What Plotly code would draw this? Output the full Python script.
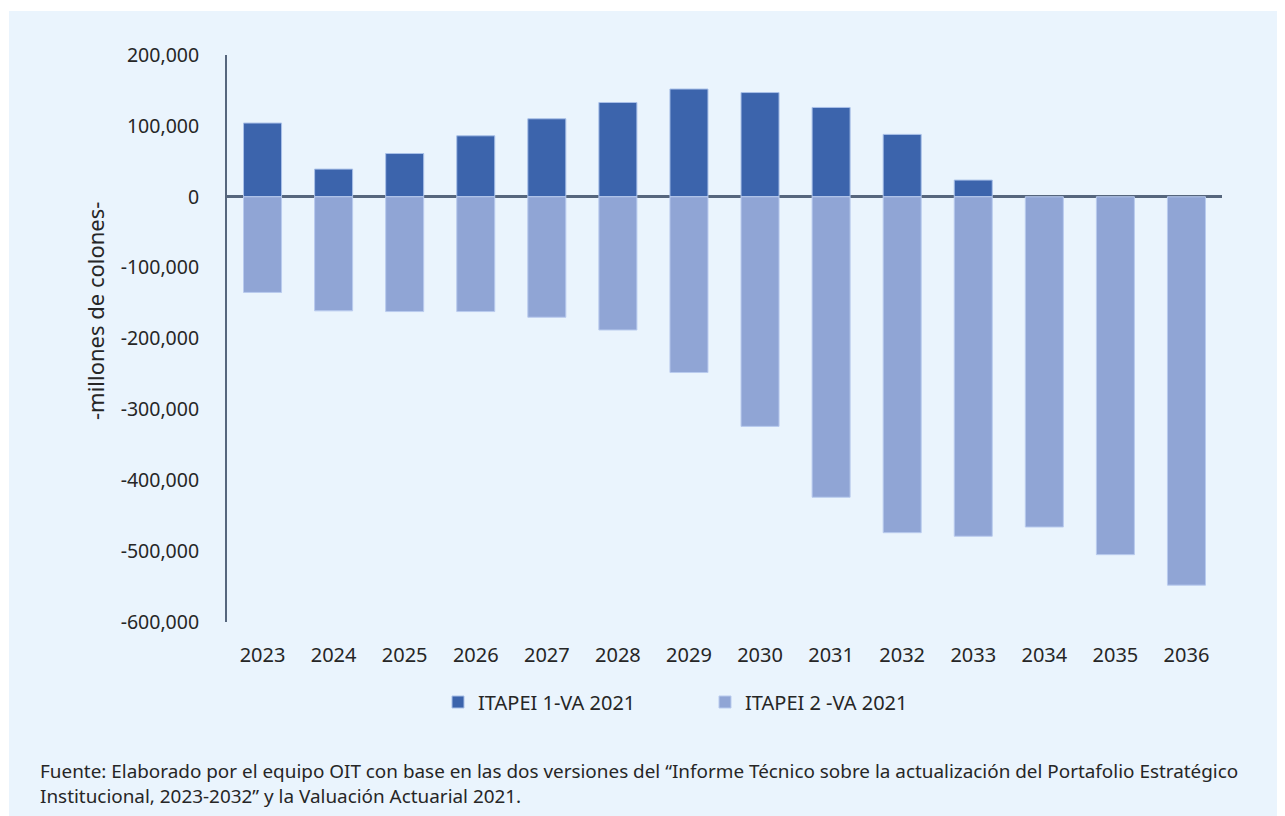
import plotly.graph_objects as go

years = ["2023", "2024", "2025", "2026", "2027", "2028", "2029",
         "2030", "2031", "2032", "2033", "2034", "2035", "2036"]
itapei1 = [104000, 39000, 61000, 86000, 110000, 133000, 152000,
           147000, 126000, 88000, 23500, 0, 0, 0]
itapei2 = [-135000, -161000, -162000, -162000, -170000, -188000, -248000,
           -324000, -424000, -474000, -479000, -466000, -505000, -548000]
series_names = ["ITAPEI 1-VA 2021", "ITAPEI 2 -VA 2021"]
y_ticks = [200000, 100000, 0, -100000, -200000, -300000, -400000, -500000, -600000]
y_tick_labels = ["200,000", "100,000", "0", "-100,000", "-200,000", "-300,000",
                 "-400,000", "-500,000", "-600,000"]
y_title = "-millones de colones-"
footer = ("Fuente: Elaborado por el equipo OIT con base en las dos versiones del \u201cInforme T\u00e9cnico sobre la actualizaci\u00f3n del Portafolio Estrat\u00e9gico<br>"
          "Institucional, 2023-2032\u201d y la Valuaci\u00f3n Actuarial 2021.")

# page body has an 8px margin: work in screen pixels, convert to figure pixels
OFF = 8
W, H = 1285 - OFF, 816 - OFF
L, R, T, B = 227 - OFF, 1222 - OFF, 55 - OFF, 622 - OFF
pw, ph = R - L, B - T

def px(xs):
    return (xs - OFF - L) / pw

def py(ys):
    return (B - (ys - OFF)) / ph

FONT = "Noto Sans"
TXT = "#262626"
AX = "#56667d"

fig = go.Figure()
fig.add_trace(go.Bar(x=years, y=itapei1, name=series_names[0],
                     marker=dict(color="#3C64AC",
                                 line=dict(color="#A9C0E8",
                                           width=[1 if v != 0 else 0 for v in itapei1]))))
fig.add_trace(go.Bar(x=years, y=itapei2, name=series_names[1],
                     marker=dict(color="#90A5D5",
                                 line=dict(color="#B9CBEE",
                                           width=[1 if v != 0 else 0 for v in itapei2]))))

fig.update_layout(
    width=W, height=H,
    margin=dict(l=L, r=W - R, t=T, b=H - B, autoexpand=False),
    paper_bgcolor="white",
    plot_bgcolor="rgba(0,0,0,0)",
    barmode="relative",
    bargap=0.465,
    font=dict(family=FONT, color=TXT, size=20),
    showlegend=True,
    legend=dict(orientation="h", x=px(438), xanchor="left", y=py(702), yanchor="middle",
                font=dict(family=FONT, size=20, color=TXT),
                itemwidth=30, entrywidth=222, bgcolor="rgba(0,0,0,0)",
                traceorder="normal"),
    shapes=[dict(type="rect", xref="paper", yref="paper", layer="below",
                 x0=px(9), x1=px(1300), y0=py(830), y1=py(11),
                 fillcolor="#EAF4FD", line=dict(width=0))],
    annotations=[
        dict(text=y_title, xref="paper", yref="paper", x=px(95), y=py(311),
             textangle=-90, showarrow=False, xanchor="center", yanchor="middle",
             font=dict(family=FONT, size=22, color=TXT)),
        dict(text=footer, xref="paper", yref="paper", x=px(38), y=py(784),
             showarrow=False, xanchor="left", yanchor="middle", align="left",
             font=dict(family=FONT, size=18.9, color=TXT)),
    ],
)
fig.update_xaxes(showgrid=False, showline=False, zeroline=False, ticks="",
                 ticklabelstandoff=19, tickfont=dict(family=FONT, size=20, color=TXT))
fig.update_yaxes(range=[-600000, 200000], tickvals=y_ticks, ticktext=y_tick_labels,
                 showgrid=False, showline=True, linecolor=AX, linewidth=2,
                 zeroline=True, zerolinecolor=AX, zerolinewidth=2.5,
                 ticks="", ticklabelstandoff=22,
                 tickfont=dict(family=FONT, size=19.5, color=TXT))

fig.write_html("out.html")
